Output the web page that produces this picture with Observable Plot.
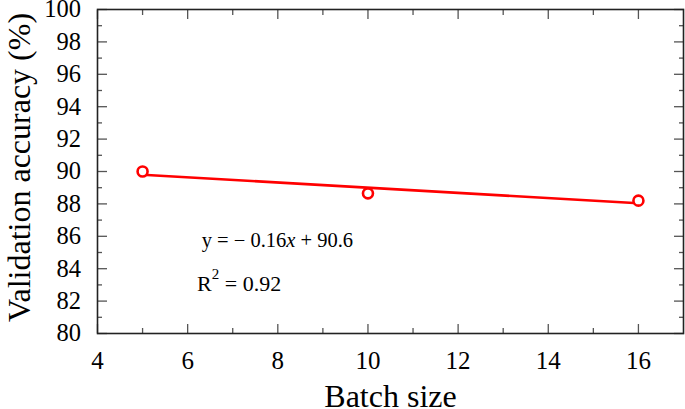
<!DOCTYPE html>
<html>
<head>
<meta charset="utf-8">
<script src="https://cdn.jsdelivr.net/npm/d3@7"></script>
<script src="https://cdn.jsdelivr.net/npm/@observablehq/plot@0.6"></script>
<style>
  html, body { margin: 0; padding: 0; background: #fff; }
  #chart svg { display: block; }
</style>
</head>
<body>
<div id="chart"></div>
<script>
// Data
const batchSize = [5, 10, 16];
const accuracy = [90.0, 88.65, 88.2];
const fitX = [5, 16];
const fitY = [89.8, 88.04];
const xTicks = [4, 6, 8, 10, 12, 14, 16];
const xMinor = [5, 7, 9, 11, 13, 15];
const yTicks = [80, 82, 84, 86, 88, 90, 92, 94, 96, 98, 100];
const yMinor = [81, 83, 85, 87, 89, 91, 93, 95, 97, 99];
const eqLabel = "y = − 0.16x + 90.6";
const r2Label = "R2 = 0.92";
const annoX = [6.31, 6.21];
const annoY = [85.33, 82.65];
const xTitle = "Batch size";
const yTitle = "Validation accuracy (%)";

const points = batchSize.map((x, i) => ({x, y: accuracy[i]}));
const fit = fitX.map((x, i) => ({x, y: fitY[i]}));
const annos = [eqLabel, r2Label].map((t, i) => ({t, x: annoX[i], y: annoY[i]}));

const font = "'Liberation Serif', 'Times New Roman', serif";
const tickColor = "#555";

const chart = Plot.plot({
  width: 685,
  height: 409,
  marginLeft: 97,
  marginRight: 2,
  marginTop: 9,
  marginBottom: 76,
  style: {fontFamily: font, background: "#fff", color: "#000", overflow: "visible"},
  x: {domain: [4, 17]},
  y: {domain: [80, 100]},
  marks: [
    // major/minor ticks on all four sides, pointing inward
    Plot.axisX(xTicks, {anchor: "bottom", tickSize: -9, tickPadding: 27, fontSize: 25, label: null, stroke: tickColor, strokeWidth: 1.3, fill: "#000"}),
    Plot.axisX(xMinor, {anchor: "bottom", tickSize: -5, text: null, label: null, stroke: tickColor, strokeWidth: 1.3}),
    Plot.axisX(xTicks, {anchor: "top", tickSize: -9, text: null, label: null, stroke: tickColor, strokeWidth: 1.3}),
    Plot.axisX(xMinor, {anchor: "top", tickSize: -5, text: null, label: null, stroke: tickColor, strokeWidth: 1.3}),
    Plot.axisY(yTicks, {anchor: "left", tickSize: -10, tickPadding: 26.5, fontSize: 24.5, label: null, stroke: tickColor, strokeWidth: 1.3, fill: "#000"}),
    Plot.axisY(yMinor, {anchor: "left", tickSize: -5, text: null, label: null, stroke: tickColor, strokeWidth: 1.3}),
    Plot.axisY(yTicks, {anchor: "right", tickSize: -10, text: null, label: null, stroke: tickColor, strokeWidth: 1.3}),
    Plot.axisY(yMinor, {anchor: "right", tickSize: -5, text: null, label: null, stroke: tickColor, strokeWidth: 1.3}),
    Plot.frame({stroke: "#222", strokeWidth: 1.6}),
    // fitted line and data points
    Plot.line(fit, {x: "x", y: "y", stroke: "#ff0000", strokeWidth: 2.6}),
    Plot.dot(points, {x: "x", y: "y", r: 5, stroke: "#ff0000", strokeWidth: 2.6, fill: "#fff"}),
    // annotations
    Plot.text(annos, {x: "x", y: "y", text: "t", textAnchor: "start", lineAnchor: "bottom", fontSize: 22, fill: "#000"}),
    // axis titles
    Plot.text([xTitle], {frameAnchor: "bottom", textAnchor: "middle", lineAnchor: "bottom", dy: 73.5, fontSize: 32, fill: "#000"}),
    Plot.text([yTitle], {frameAnchor: "left", textAnchor: "middle", lineAnchor: "bottom", rotate: -90, dx: -67.5, dy: -4, fontSize: 32, fill: "#000"})
  ]
});

// Rich text: italic x and superscript 2
d3.select(chart).selectAll("text").each(function () {
  const el = d3.select(this);
  const s = this.textContent;
  if (s === eqLabel) {
    el.text(null).attr("font-size", "20.5px");
    el.append("tspan").text("y = − 0.16");
    el.append("tspan").attr("font-style", "italic").text("x");
    el.append("tspan").text(" + 90.6");
  } else if (s === r2Label) {
    el.text(null);
    el.append("tspan").text("R");
    el.append("tspan").attr("font-size", "15px").attr("dy", "-12px").text("2");
    el.append("tspan").attr("dy", "12px").text(" = 0.92");
  }
});

document.getElementById("chart").appendChild(chart);
</script>
</body>
</html>
